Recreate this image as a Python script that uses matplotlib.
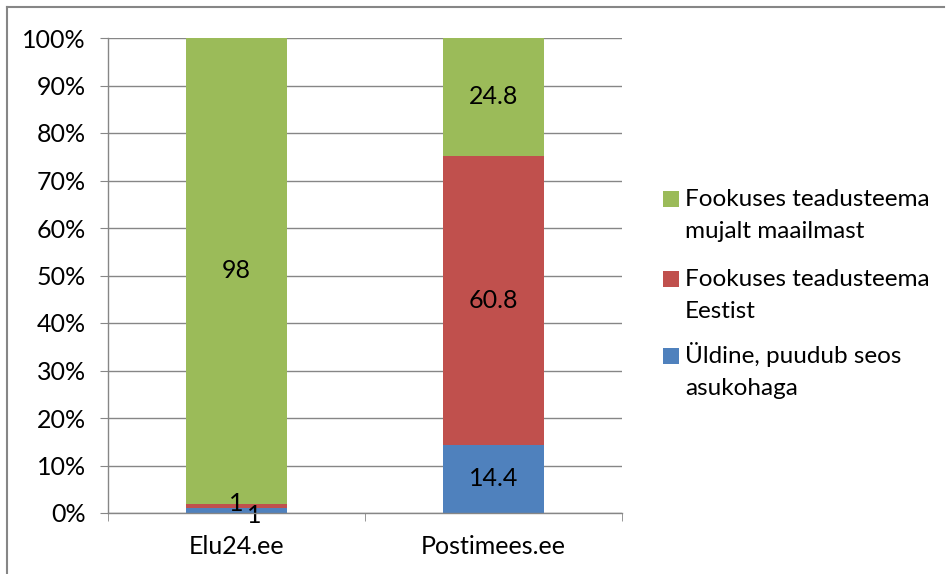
import matplotlib
matplotlib.use("Agg")
import matplotlib.pyplot as plt
from matplotlib.lines import Line2D
from matplotlib.patches import Rectangle
from matplotlib.ticker import MultipleLocator, FuncFormatter, FixedLocator
import numpy as np

plt.rcParams['font.family'] = ['Lato', 'DejaVu Sans']

categories = ["Elu24.ee", "Postimees.ee"]
series_names = ["Üldine, puudub seos\nasukohaga",
                "Fookuses teadusteema\nEestist",
                "Fookuses teadusteema\nmujalt maailmast"]
uldine = [1, 14.4]
eestist = [1, 60.8]
maailmast = [98, 24.8]
label_uldine = ["1", "14.4"]
label_eestist = ["1", "60.8"]
label_maailmast = ["98", "24.8"]
colors = ["#4F81BD", "#C0504D", "#9BBB59"]

W, H = 949, 574
fig = plt.figure(figsize=(W/100, H/100), dpi=100)
ax = fig.add_axes([108/W, 61/H, 514/W, 475/H])

x = np.arange(len(categories))
series = [uldine, eestist, maailmast]
labels = [label_uldine, label_eestist, label_maailmast]
totals = np.sum(series, axis=0)
bottom = np.zeros(len(categories))
bars = []
for vals, col, name, labs in zip(series, colors, series_names, labels):
    pct = np.array(vals) / totals * 100
    b = ax.bar(x, pct, 0.39, bottom=bottom, color=col, label=name, zorder=3)
    bars.append(b)
    for i in range(len(categories)):
        cy = bottom[i] + pct[i] / 2
        dx, dy = 0, 0
        if pct[i] < 3:
            if col == colors[0]:
                dx, dy = 0.07, -1.0
            else:
                dx, dy = 0, 0.4
        ax.text(x[i] + dx, cy + dy, labs[i], ha='center', va='center',
                fontsize=18, color='#000000', zorder=4)
    bottom = bottom + pct

ax.set_xlim(-0.5, 1.5)
ax.set_ylim(0, 100)
ax.yaxis.set_major_locator(MultipleLocator(10))
ax.yaxis.set_major_formatter(FuncFormatter(lambda v, p: f"{int(round(v))}%"))
ax.grid(axis='y', color='#868686', linewidth=1, zorder=0)
ax.set_xticks(x)
ax.set_xticklabels(categories, fontsize=18)
ax.xaxis.set_minor_locator(FixedLocator([-0.5, 0.5, 1.5]))
ax.tick_params(axis='x', which='major', length=0, pad=16)
ax.tick_params(axis='x', which='minor', length=6, color='#868686', direction='out')
ax.tick_params(axis='y', length=6, color='#868686', direction='out', labelsize=18, pad=10)
for s in ['top', 'right']:
    ax.spines[s].set_visible(False)
for s in ['left', 'bottom']:
    ax.spines[s].set_color('#868686')
    ax.spines[s].set_linewidth(1)
    ax.spines[s].set_zorder(5)

# legend (manual, Excel style: marker beside first line)
entry_centers = [199, 279, 356]  # pixel y (from top) of marker centres
sq = 16
for b, name, yc in zip(bars[::-1], series_names[::-1], entry_centers):
    col = b.patches[0].get_facecolor()
    fig.add_artist(Rectangle(((663)/W, 1 - (yc + sq/2)/H), sq/W, sq/H,
                             transform=fig.transFigure, facecolor=col, edgecolor='none'))
    for k, line in enumerate(name.split("\n")):
        fig.text(685/W, 1 - (yc + 7 + 32*k)/H, line, fontsize=17.5,
                 ha='left', va='baseline', color='#000000')

# outer chart border (top and left)
fig.add_artist(Line2D([7/W, 944/W], [1 - 7/H, 1 - 7/H], color='#868686', linewidth=1.5, transform=fig.transFigure))
fig.add_artist(Line2D([7/W, 7/W], [0, 1 - 7/H], color='#868686', linewidth=1.5, transform=fig.transFigure))

fig.savefig("out.png", dpi=100)
